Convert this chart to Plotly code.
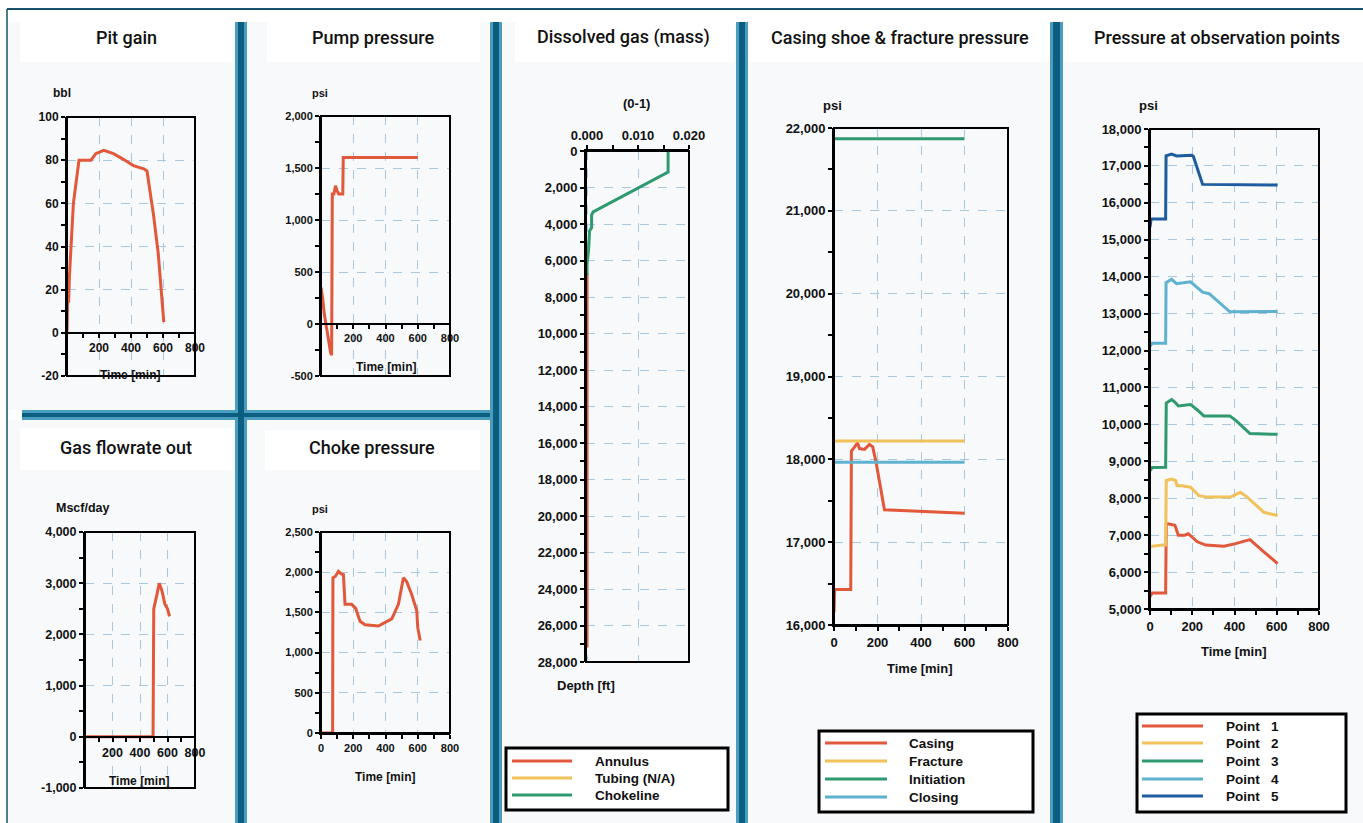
import plotly.graph_objects as go

W, H = 1363, 823

# ---------------- data ----------------
pit_time = [0, 5, 10, 15, 40, 75, 150, 180, 230, 290, 350, 415, 480, 500, 540, 570, 605]
pit_gain_bbl = [0, 20, 14, 26, 60, 80, 80, 83, 84.5, 83, 80.5, 77.5, 76, 75, 55, 37, 5]

pump_time = [0, 10, 20, 30, 45, 60, 66, 70, 80, 90, 100, 110, 135, 138, 600]
pump_psi = [350, 250, 100, 0, -150, -280, -300, 1250, 1250, 1330, 1280, 1250, 1250, 1600, 1600]

gas_time = [0, 495, 500, 510, 525, 540, 560, 580, 600, 615]
gas_mscf = [0, 0, 2500, 2650, 2800, 3000, 2850, 2600, 2500, 2350]

choke_time = [0, 72, 74, 90, 108, 125, 139, 149, 190, 215, 242, 273, 356, 439, 480, 511, 532, 563, 594, 600, 615]
choke_psi = [0, 0, 1930, 1950, 2010, 1980, 1970, 1600, 1600, 1550, 1390, 1347, 1330, 1420, 1600, 1930, 1880, 1720, 1520, 1310, 1150]

chokeline_depth = [0, 1150, 3340, 3500, 4200, 4380, 5450, 6180, 6800]
chokeline_mass = [0.0159, 0.0159, 0.0012, 0.0009, 0.0009, 0.0005, 0.0003, 0.0, 0.0]
annulus_depth = [6700, 27200]
annulus_mass = [0.0, 0.0]
tubing_depth = []
tubing_mass = []

shoe_time = [0, 3, 77, 80, 95, 108, 117, 140, 163, 178, 193, 216, 232, 600]
casing_psi = [16150, 16430, 16430, 18100, 18150, 18200, 18130, 18120, 18180, 18150, 17970, 17650, 17390, 17350]
limit_time = [0, 600]
fracture_psi = [18220, 18220]
initiation_psi = [21870, 21870]
closing_psi = [17965, 17965]

p1_time = [0, 10, 74, 77, 85, 118, 134, 165, 181, 224, 264, 350, 405, 473, 539, 604]
p1_psi = [5340, 5430, 5430, 7300, 7310, 7270, 7000, 7000, 7040, 6820, 6730, 6700, 6770, 6880, 6550, 6230]
p2_time = [0, 10, 63, 74, 77, 102, 121, 128, 151, 192, 231, 271, 381, 428, 460, 539, 604]
p2_psi = [6680, 6700, 6730, 6730, 8480, 8520, 8480, 8340, 8340, 8300, 8070, 8030, 8030, 8160, 8030, 7620, 7530]
p3_time = [0, 10, 74, 77, 102, 118, 134, 192, 224, 255, 378, 410, 473, 604]
p3_psi = [8750, 8830, 8840, 10580, 10670, 10600, 10500, 10540, 10390, 10230, 10230, 10090, 9750, 9730]
p4_time = [0, 10, 74, 76, 102, 126, 192, 224, 249, 280, 319, 378, 604]
p4_psi = [12110, 12200, 12200, 13840, 13930, 13810, 13860, 13700, 13580, 13540, 13340, 13050, 13060]
p5_time = [0, 5, 74, 76, 102, 126, 197, 205, 249, 604]
p5_psi = [15340, 15560, 15560, 17270, 17320, 17270, 17290, 17260, 16500, 16480]

time_ticks = [0, 200, 400, 600, 800]
pit_ticks = [-20, 0, 20, 40, 60, 80, 100]
pump_ticks = [-500, 0, 500, 1000, 1500, 2000]
gas_ticks = [-1000, 0, 1000, 2000, 3000, 4000]
choke_ticks = [0, 500, 1000, 1500, 2000, 2500]
depth_ticks = list(range(0, 28001, 2000))
mass_ticks = [0.0, 0.01, 0.02]
shoe_ticks = [16000, 17000, 18000, 19000, 20000, 21000, 22000]
obs_ticks = list(range(5000, 18001, 1000))

titles = ["Pit gain", "Pump pressure", "Gas flowrate out", "Choke pressure",
          "Dissolved gas (mass)", "Casing shoe & fracture pressure",
          "Pressure at observation points"]

dissolved_names = ["Annulus", "Tubing (N/A)", "Chokeline"]
shoe_names = ["Casing", "Fracture", "Initiation", "Closing"]
obs_names = ["Point\u00a0\u00a0\u00a01", "Point\u00a0\u00a0\u00a02", "Point\u00a0\u00a0\u00a03",
             "Point\u00a0\u00a0\u00a04", "Point\u00a0\u00a0\u00a05"]

# ---------------- styling ----------------
RED = "#e2583b"
YEL = "#f2c25a"
GRN = "#2f9a6f"
LBL = "#5fb2cf"
DBL = "#1d5c9e"
GRID = "#a7c8de"
TEAL_LIGHT = "#4b9dc0"
TEAL_DARK = "#0b5e80"
BORDER = "#15506a"
PANEL_BG = "#f7f9fb"
SANS = "Liberation Sans, Arial, sans-serif"
TITLEFONT = dict(family="Roboto, Liberation Sans, sans-serif", size=18, color="#111111", weight=500)


def tfont(size):
    return dict(family=SANS, size=size, color="#111111", weight="bold")


LBLFONT = tfont(13.5)

# tick label size per panel
tick_size = {1: 12, 2: 11, 3: 12.5, 4: 11, 5: 13, 6: 13, 7: 13}


def fx(px):
    return px / W


def fy(py):
    return 1 - py / H


def commas(vals):
    return [f"{v:,}" for v in vals]


fig = go.Figure()

# subplot pixel boxes: (left, right, top, bottom)
boxes = {
    1: (67, 195, 117, 376),
    2: (321, 450, 116, 376),
    3: (85, 195, 532, 788),
    4: (321, 450, 532, 733),
    5: (586, 689, 151, 662),
    6: (834, 1008, 128, 625),
    7: (1150, 1319, 129, 609),
}


def ax_name(i, kind):
    return f"{kind}axis" if i == 1 else f"{kind}axis{i}"


def ref(i, kind):
    return kind if i == 1 else f"{kind}{i}"


base_axis = dict(showline=True, linecolor="black", linewidth=2,
                 ticks="outside", ticklen=4, tickwidth=1.5, tickcolor="black",
                 showgrid=True, gridcolor=GRID, griddash="dash", gridwidth=1,
                 zeroline=False, fixedrange=True, automargin=False)

y_specs = {
    1: dict(range=[-20, 100], tickvals=pit_ticks, ticktext=commas(pit_ticks), minor_dtick=10),
    2: dict(range=[-500, 2000], tickvals=pump_ticks, ticktext=commas(pump_ticks), minor_dtick=250),
    3: dict(range=[-1000, 4000], tickvals=gas_ticks, ticktext=commas(gas_ticks), minor_dtick=500),
    4: dict(range=[0, 2500], tickvals=choke_ticks, ticktext=commas(choke_ticks), minor_dtick=250),
    5: dict(range=[28000, 0], tickvals=depth_ticks, ticktext=commas(depth_ticks), minor_dtick=1000),
    6: dict(range=[16000, 22000], tickvals=shoe_ticks, ticktext=commas(shoe_ticks), minor_dtick=500),
    7: dict(range=[5000, 18000], tickvals=obs_ticks, ticktext=commas(obs_ticks), minor_dtick=500),
}

layout_axes = {}
for i, (l, r, t, b) in boxes.items():
    ys = y_specs[i]
    ydom = [fy(b), fy(t)]
    ya = dict(base_axis, domain=ydom, range=ys["range"], tickmode="array",
              tickvals=ys["tickvals"], ticktext=ys["ticktext"], anchor=ref(i, "x"),
              tickfont=tfont(tick_size[i]),
              minor=dict(dtick=ys["minor_dtick"], ticks="outside", ticklen=4,
                         tickcolor="black", tickwidth=1.5, showgrid=False))
    if i == 5:
        ya["layer"] = "below traces"
    layout_axes[ax_name(i, "y")] = ya

    xa = dict(base_axis, domain=[fx(l), fx(r)], tickfont=tfont(tick_size[i]))
    if i == 5:
        xa.update(range=[-0.0002, 0.02], side="top", anchor=ref(i, "y"), tickmode="array",
                  tickvals=mass_ticks, ticktext=[f"{v:.3f}" for v in mass_ticks],
                  minor=dict(dtick=0.005, ticks="outside", ticklen=4, tickcolor="black",
                             tickwidth=1.5, showgrid=False))
    else:
        xa.update(range=[0, 800], tickmode="array", tickvals=time_ticks,
                  minor=dict(dtick=100, ticks="outside", ticklen=4, tickcolor="black",
                             tickwidth=1.5, showgrid=False))
        ymin, ymax = ys["range"]
        if ymin < 0:
            # time axis runs along the zero line
            frac = (0 - ymin) / (ymax - ymin)
            xa.update(anchor="free", position=ydom[0] + frac * (ydom[1] - ydom[0]),
                      ticktext=[""] + [str(v) for v in time_ticks[1:]])
        else:
            xa.update(anchor=ref(i, "y"), ticktext=[str(v) for v in time_ticks])
    layout_axes[ax_name(i, "x")] = xa


def add_line(i, x, y, color, name, width=3):
    fig.add_trace(go.Scatter(x=x, y=y, mode="lines", name=name, showlegend=False,
                             line=dict(color=color, width=width),
                             xaxis=ref(i, "x"), yaxis=ref(i, "y")))


add_line(1, pit_time, pit_gain_bbl, RED, "Pit gain")
add_line(2, pump_time, pump_psi, RED, "Pump pressure")
add_line(3, gas_time, gas_mscf, RED, "Gas flowrate out")
add_line(4, choke_time, choke_psi, RED, "Choke pressure")

dissolved_series = [(annulus_mass, annulus_depth), (tubing_mass, tubing_depth),
                    (chokeline_mass, chokeline_depth)]
dissolved_colors = [RED, YEL, GRN]
for (m, d), c, n in zip(dissolved_series, dissolved_colors, dissolved_names):
    add_line(5, m, d, c, n)

shoe_series = [(shoe_time, casing_psi), (limit_time, fracture_psi),
               (limit_time, initiation_psi), (limit_time, closing_psi)]
shoe_colors = [RED, YEL, GRN, LBL]
for (t, p), c, n in zip(shoe_series, shoe_colors, shoe_names):
    add_line(6, t, p, c, n)

obs_series = [(p1_time, p1_psi), (p2_time, p2_psi), (p3_time, p3_psi),
              (p4_time, p4_psi), (p5_time, p5_psi)]
obs_colors = [RED, YEL, GRN, LBL, DBL]
for (t, p), c, n in zip(obs_series, obs_colors, obs_names):
    add_line(7, t, p, c, n)

shapes = []
annotations = []


def prect(x0, y0, x1, y1, fill, line_color=None, line_width=0, layer="below"):
    shapes.append(dict(type="rect", xref="paper", yref="paper",
                       x0=fx(x0), x1=fx(x1), y0=fy(y1), y1=fy(y0),
                       fillcolor=fill, layer=layer,
                       line=dict(color=line_color or fill, width=line_width)))


def pline(x0, y0, x1, y1, color, width, layer="above"):
    shapes.append(dict(type="line", xref="paper", yref="paper",
                       x0=fx(x0), x1=fx(x1), y0=fy(y0), y1=fy(y1),
                       line=dict(color=color, width=width), layer=layer))


def text(x, y, s, font, xanchor="center"):
    annotations.append(dict(x=fx(x), y=fy(y), xref="paper", yref="paper", text=s,
                            showarrow=False, font=font, xanchor=xanchor, yanchor="middle"))


# panel backgrounds
panels = [(8, 22, 235, 410), (247, 22, 489, 410), (8, 420, 235, 823), (247, 420, 489, 823),
          (503, 22, 736, 823), (748, 22, 1050, 823), (1064, 22, 1363, 823)]
for p in panels:
    prect(*p, PANEL_BG)

# title boxes and titles
title_boxes = [(20, 22, 233, 62), (267, 22, 480, 62), (20, 428, 233, 470), (265, 430, 480, 470),
               (515, 22, 735, 62), (748, 22, 1050, 62), (1064, 22, 1363, 62)]
title_pos = [(126, 37), (373, 37), (126, 447), (372, 447), (623, 37), (900, 37), (1217, 37)]
for bx, (tx, ty), s in zip(title_boxes, title_pos, titles):
    prect(*bx, "white")
    text(tx, ty, s, TITLEFONT)

# outer frame lines
pline(7, 9, W, 9, BORDER, 2)
pline(7, 9, 7, H, BORDER, 1.5)

# separator bars
bars_v = [(235, 247, 22, H), (490, 502, 22, H), (736, 748, 22, H), (1050, 1063, 22, H)]
for x0, x1, y0, y1 in bars_v:
    prect(x0, y0, x1, y1, TEAL_LIGHT, layer="above")
    prect(x0 + 3, y0, x1 - 3, y1, TEAL_DARK, layer="above")
prect(22, 410, 490, 420, TEAL_LIGHT, layer="above")
prect(22, 413, 490, 417, TEAL_DARK, layer="above")
prect(238, 410, 244, 420, TEAL_DARK, layer="above")

# plot frames
for i in boxes:
    shapes.append(dict(type="rect", xref=f"{ref(i, 'x')} domain", yref=f"{ref(i, 'y')} domain",
                       x0=0, x1=1, y0=0, y1=1, line=dict(color="black", width=2),
                       fillcolor="rgba(0,0,0,0)", layer="above"))

# unit labels and axis titles
units = [(62, 93, "bbl", 12), (320, 93, "psi", 11), (83, 508, "Mscf/day", 12.5), (320, 509, "psi", 11),
         (636, 104, "(0-1)", 13), (832, 105, "psi", 13), (1148, 105, "psi", 13)]
for ux, uy, s, sz in units:
    text(ux, uy, s, tfont(sz))
time_labels = [(130, 375, 12), (386, 367, 12), (139, 781, 12), (385, 777, 12),
               (920, 668, 13), (1234, 651, 13)]
for tx, ty, sz in time_labels:
    text(tx, ty, "Time [min]", tfont(sz))
text(586, 685, "Depth [ft]", tfont(13))


# legend boxes
def legend_box(x0, y0, x1, y1, line_x0, line_x1, text_x, rows, names, colors):
    prect(x0, y0, x1, y1, "white", "black", 3, layer="above")
    for ry, n, c in zip(rows, names, colors):
        pline(line_x0, ry, line_x1, ry, c, 3)
        text(text_x, ry, n, LBLFONT, xanchor="left")


legend_box(506, 748, 728, 810, 512, 572, 593, [761, 778, 795], dissolved_names, dissolved_colors)
legend_box(819, 731, 1033, 812, 825, 887, 907, [743, 761, 779, 797], shoe_names, shoe_colors)
legend_box(1137, 714, 1346, 812, 1142, 1203, 1224, [726, 743, 761, 779, 796], obs_names, obs_colors)

fig.update_layout(
    width=W, height=H, margin=dict(l=0, r=0, t=0, b=0, pad=0, autoexpand=False),
    paper_bgcolor="white", plot_bgcolor="rgba(0,0,0,0)",
    showlegend=False, shapes=shapes, annotations=annotations,
    font=dict(family=SANS),
    **layout_axes,
)

fig.write_html("out.html")
